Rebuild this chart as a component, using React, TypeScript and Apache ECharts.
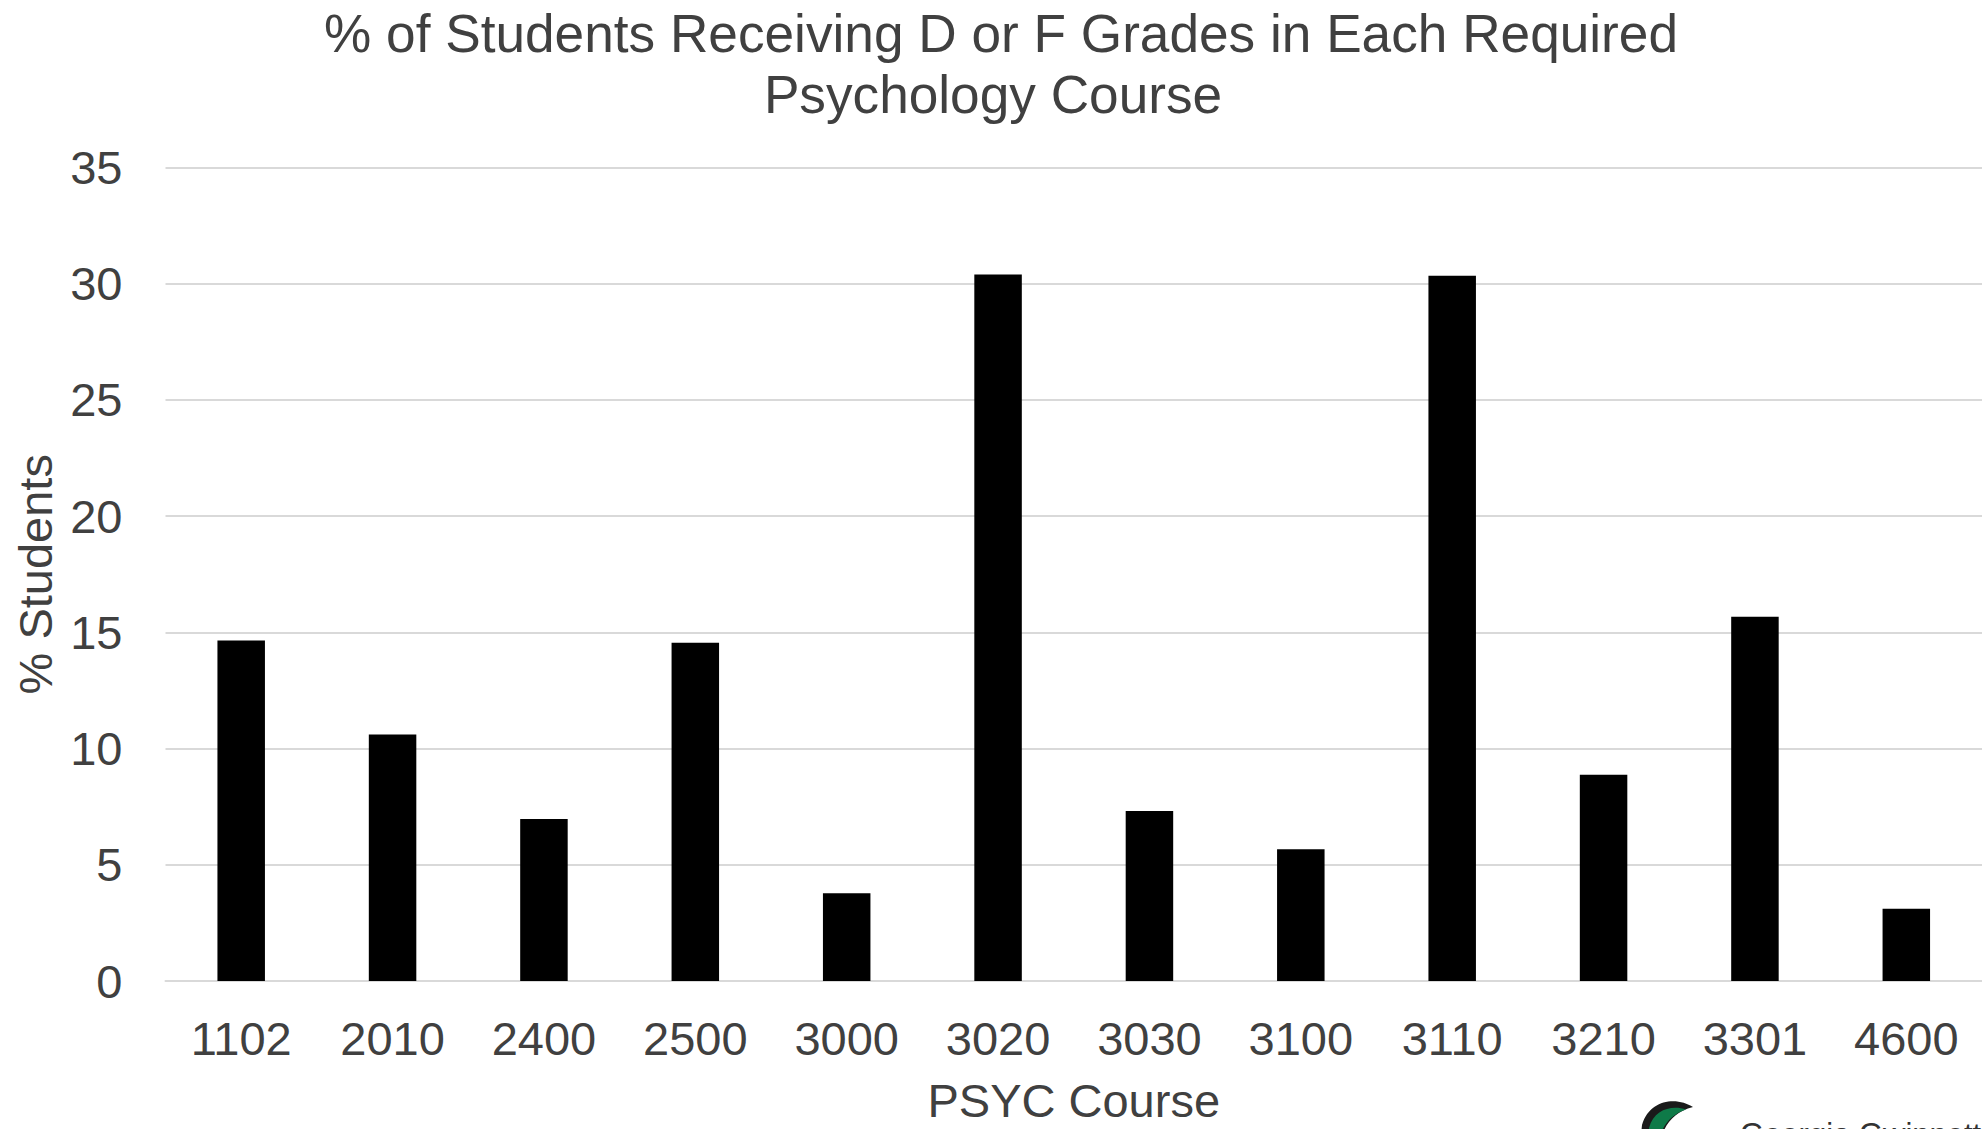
import React, { useEffect, useRef } from "react";
import * as echarts from "echarts";

const courses = ["1102", "2010", "2400", "2500", "3000", "3020", "3030", "3100", "3110", "3210", "3301", "4600"];
const pctDF = [14.65, 10.61, 6.97, 14.55, 3.78, 30.4, 7.31, 5.67, 30.34, 8.87, 15.67, 3.11];
const yTicks = { min: 0, max: 35, interval: 5 };
const titleLines = ["% of Students Receiving D or F Grades in Each Required", "Psychology Course"];
const xName = "PSYC Course";
const yName = "% Students";
const logoText = "Georgia Gwinnett";

const FONT = '"Liberation Sans", Arial, Helvetica, sans-serif';
const TXT = "#404040";
const GRID = "#d9d9d9";

echarts.graphic.registerShape(
  "crescentOuter",
  echarts.graphic.extendPath(
    "M53 7 C38 -3 10 -2 2 25 L0 45 L20 45 C22 28 32 12 53 7 Z",
    {}
  )
);
echarts.graphic.registerShape(
  "crescentInner",
  echarts.graphic.extendPath(
    "M46 9.5 C32 5 14 9 9 28 L8 45 L18 45 C20 29 29 15 46 9.5 Z",
    {}
  )
);

export default function App() {
  const ref = useRef<HTMLDivElement>(null);
  useEffect(() => {
    document.body.style.margin = "0";
    document.body.style.overflow = "hidden";
    const chart = echarts.init(ref.current!, undefined, { renderer: "svg" });
    chart.setOption({
      animation: false,
      backgroundColor: "#ffffff",
      textStyle: { fontFamily: FONT },
      grid: { left: 165.5, top: 167.5, width: 1818, height: 821.5, containLabel: false },
      xAxis: {
        type: "category",
        data: courses,
        axisTick: { show: false },
        axisLine: { show: true, lineStyle: { color: GRID, width: 2 } },
        axisLabel: { color: TXT, fontSize: 47, fontFamily: FONT, margin: 33.5, interval: 0 },
        name: xName,
        nameLocation: "middle",
        nameGap: 96,
        nameTextStyle: { color: TXT, fontSize: 47, fontFamily: FONT },
      },
      yAxis: {
        type: "value",
        min: yTicks.min,
        max: yTicks.max,
        interval: yTicks.interval,
        axisLine: { show: false },
        axisTick: { show: false },
        axisLabel: { color: TXT, fontSize: 47, fontFamily: FONT, margin: 43 },
        splitLine: { show: true, lineStyle: { color: GRID, width: 2 } },
        name: yName,
        nameLocation: "middle",
        nameGap: 107,
        nameTextStyle: { color: TXT, fontSize: 47, fontFamily: FONT },
      },
      series: [
        {
          type: "bar",
          data: pctDF,
          barWidth: 47.5,
          itemStyle: { color: "#000000" },
        },
      ],
      graphic: [
        {
          type: "text",
          x: 1001,
          y: 3,
          style: {
            text: titleLines[0],
            textAlign: "center",
            textVerticalAlign: "top",
            fontSize: 53.2,
            lineHeight: 61,
            fontFamily: FONT,
            fill: TXT,
          },
        },
        {
          type: "text",
          x: 993,
          y: 64,
          style: {
            text: titleLines[1],
            textAlign: "center",
            textVerticalAlign: "top",
            fontSize: 53.2,
            lineHeight: 61,
            fontFamily: FONT,
            fill: TXT,
          },
        },
        {
          type: "crescentOuter",
          x: 1640,
          y: 1100,
          scaleX: 1,
          scaleY: 1,
          style: { fill: "#1a1a1a" },
        },
        {
          type: "crescentInner",
          x: 1640,
          y: 1100,
          scaleX: 1,
          scaleY: 1,
          style: { fill: "#0e7a48" },
        },
        {
          type: "text",
          x: 1740,
          y: 1119,
          style: {
            text: logoText,
            textAlign: "left",
            textVerticalAlign: "top",
            fontSize: 31,
            lineHeight: 31,
            fontFamily: FONT,
            fill: "#333333",
          },
        },
      ],
    });
    return () => chart.dispose();
  }, []);
  return (
    <div
      ref={ref}
      style={{ position: "fixed", left: 0, top: 0, width: 1982, height: 1129 }}
    />
  );
}
